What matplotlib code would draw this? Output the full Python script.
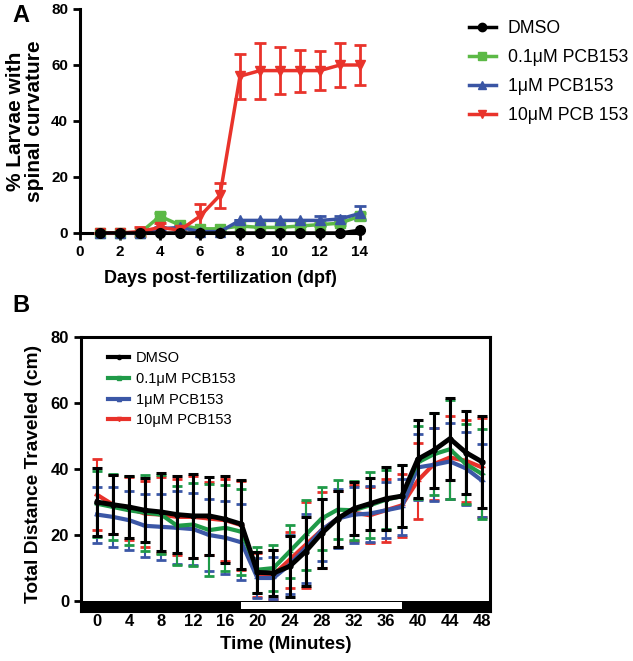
import matplotlib
matplotlib.use("Agg")
import matplotlib.pyplot as plt
from matplotlib.patches import Rectangle
from matplotlib.lines import Line2D

plt.rcParams['font.family'] = ['Liberation Sans', 'DejaVu Sans']

# ---- 面板 A：脊柱弯曲比例 ----
days = [1, 2, 3, 4, 5, 6, 7, 8, 9, 10, 11, 12, 13, 14]
dmso_a = [0, 0, 0, 0, 0, 0, 0, 0, 0, 0, 0, 0, 0, 1]
low_a = [0, 0, 0, 6, 2.8, 1.5, 1.5, 2.5, 2, 2, 2.5, 3, 3.5, 6]
mid_a = [0, 0, 0, 1.5, 2, 0.5, 0.5, 4.5, 4.5, 4.5, 4.5, 4.5, 5, 7]
high_a = [0, 0, 0.5, 2, 1, 6, 13.5, 56, 58, 58, 58, 58, 60, 60]
low_a_err = [0, 0, 0, 1, 0.5, 0, 0, 0, 0, 0, 0, 0.5, 0.5, 1]
mid_a_err = [0, 0, 0, 0.5, 0.5, 0, 0, 0, 0, 0, 0, 1.5, 1, 2.5]
high_a_err = [0, 0, 1.5, 1.5, 0, 4.5, 4.5, 8, 10, 8.5, 7.5, 7, 8, 7]
labels_a = ['DMSO', '0.1\u03bcM PCB153', '1\u03bcM PCB153', '10\u03bcM PCB 153']

# ---- 面板 B：总游动距离 ----
times = [0, 2, 4, 6, 8, 10, 12, 14, 16, 18, 20, 22, 24,
         26, 28, 30, 32, 34, 36, 38, 40, 42, 44, 46, 48]
dmso_b = [30, 29.2, 28.5, 27.5, 27, 26.2, 25.8, 25.8, 24.8, 23.3, 8.7, 8.5, 10.5,
          15, 20.5, 25, 28, 29.5, 31, 31.8, 43, 45.7, 49.2, 45, 42.2]
dmso_b_err = [10.3, 9, 9.4, 9.7, 11.7, 11.7, 12.8, 11.8, 13.2, 13.5, 6.3, 7, 9.3,
              10.5, 10.4, 8.5, 8, 7.9, 9.5, 9.3, 11.8, 11.4, 12.4, 12.5, 14]
low_b = [29.5, 28.5, 27.5, 26.8, 26.2, 22.8, 23.2, 21.5, 22.2, 21, 9.5, 10, 15,
         20, 25, 27.7, 27.5, 29, 30.7, 31.8, 42, 44.5, 46, 41.5, 38.5]
low_b_err = [10, 10, 10.5, 11.5, 12, 12, 12.5, 14, 13, 13, 7, 7, 8,
             10.5, 9.5, 9, 9, 10, 9, 9.5, 11, 12.5, 15, 12, 13.5]
mid_b = [26.2, 25.5, 24.5, 22.8, 22.5, 22.2, 21.8, 20, 19.2, 17.8, 7, 7, 11,
         16, 21.5, 25, 26.2, 26.5, 27.5, 28.5, 40.5, 41.3, 42.3, 40.2, 36.5]
mid_b_err = [8.5, 9, 9, 9.5, 10, 11, 11, 11, 11, 11.5, 6, 6.5, 9,
             10.5, 9.5, 9, 8.5, 8.5, 8.5, 8.5, 10, 11, 11.5, 11, 11]
high_b = [32.2, 29.2, 28, 26.5, 26.2, 25.5, 25.5, 25, 24.5, 23, 8, 8, 12.5,
          17, 21.5, 25, 26.8, 26, 27.5, 29, 36.5, 41.5, 43.5, 42.5, 40.5]
high_b_err = [10.7, 9, 9.5, 10, 11.5, 11.5, 12.5, 11, 12.5, 13.5, 6.7, 7.5, 8.5,
              13, 11.5, 8.5, 8.5, 8.5, 9.5, 9.5, 11.5, 11, 12.5, 12.5, 15]
labels_b = ['DMSO', '0.1\u03bcM PCB153', '1\u03bcM PCB153', '10\u03bcM PCB153']

W, H = 633, 661
fig = plt.figure(figsize=(W / 100, H / 100), dpi=100)

# ================= 面板 A =================
axA = fig.add_axes([80 / W, 1 - 233 / H, 280 / W, 224 / H])
ca = {'k': 'black', 'g': '#5cb946', 'b': '#3a55a4', 'r': '#e9332b'}
series_a = [
    (low_a, low_a_err, ca['g'], 's'),
    (mid_a, mid_a_err, ca['b'], '^'),
    (high_a, high_a_err, ca['r'], 'v'),
]
for vals, err, col, mk in series_a:
    axA.errorbar(days, vals, yerr=err, color=col, marker=mk, markersize=7,
                 lw=2.5, capsize=4, capthick=2, elinewidth=2, clip_on=False, zorder=3)
axA.plot(days, dmso_a, color='black', marker='o', markersize=7, lw=2.5,
         clip_on=False, zorder=4)

axA.set_xlim(0, 14)
axA.set_ylim(0, 80)
axA.set_xticks(range(0, 15, 2))
axA.set_yticks(range(0, 81, 20))
for s in ['top', 'right']:
    axA.spines[s].set_visible(False)
for s in ['left', 'bottom']:
    axA.spines[s].set_linewidth(2.2)
axA.tick_params(width=2, length=5, labelsize=11)
for t in axA.get_xticklabels() + axA.get_yticklabels():
    t.set_fontweight('bold')
axA.set_xlabel('Days post-fertilization (dpf)', fontsize=13, fontweight='bold', labelpad=8)
axA.set_ylabel('% Larvae with\nspinal curvature', fontsize=15, fontweight='bold',
               labelpad=5, linespacing=1.0)

handles_a = [Line2D([], [], color=ca['k'], marker='o', lw=2.5, markersize=6),
             Line2D([], [], color=ca['g'], marker='s', lw=2.5, markersize=6),
             Line2D([], [], color=ca['b'], marker='^', lw=2.5, markersize=6),
             Line2D([], [], color=ca['r'], marker='v', lw=2.5, markersize=6)]
fig.legend(handles_a, labels_a, loc='upper left', bbox_to_anchor=(462 / W, 1 - 13 / H),
           frameon=False, fontsize=12.7, handlelength=1.5, labelspacing=0.68,
           handletextpad=0.7, borderaxespad=0)

# ================= 面板 B =================
axB = fig.add_axes([81 / W, 1 - 611 / H, 409 / W, 274 / H])
cb = {'k': 'black', 'g': '#1f9a48', 'b': '#3b57a6', 'r': '#e8312a'}
series_b = [
    (high_b, high_b_err, cb['r']),
    (mid_b, mid_b_err, cb['b']),
    (low_b, low_b_err, cb['g']),
]
for vals, err, col in series_b:
    axB.errorbar(times, vals, yerr=err, color=col, lw=3, marker='_',
                 markersize=4, capsize=3.5, capthick=2, elinewidth=1.5, zorder=2)
axB.errorbar(times, dmso_b, yerr=dmso_b_err, color='black', lw=3.5,
             marker='o', markersize=3.5, capsize=3.5, capthick=2.2,
             elinewidth=2.2, zorder=3)

axB.set_xlim(-2, 49)
axB.set_ylim(-3, 80)
axB.set_xticks(range(0, 49, 4))
axB.set_yticks(range(0, 81, 20))
for s in axB.spines.values():
    s.set_linewidth(2.2)
axB.tick_params(axis='y', width=2, length=5, labelsize=12)
axB.tick_params(axis='x', length=0, labelsize=12, pad=2)
for t in axB.get_xticklabels() + axB.get_yticklabels():
    t.set_fontweight('bold')

# 明暗周期条
axB.add_patch(Rectangle((-2, -3), 51, 3, facecolor='black', edgecolor='none', zorder=5))
axB.add_patch(Rectangle((18, -2.5), 20, 2.1, facecolor='white', edgecolor='none', zorder=6))

axB.set_xlabel('Time (Minutes)', fontsize=13.5, fontweight='bold', labelpad=5)
axB.set_ylabel('Total Distance Traveled (cm)', fontsize=13.8, fontweight='bold', labelpad=6)

handles_b = [Line2D([], [], color=cb['k'], marker='o', lw=3, markersize=3),
             Line2D([], [], color=cb['g'], marker='s', lw=3, markersize=3),
             Line2D([], [], color=cb['b'], marker='^', lw=3, markersize=3),
             Line2D([], [], color=cb['r'], marker='v', lw=3, markersize=3)]
axB.legend(handles_b, labels_b, loc='upper left', frameon=False,
           fontsize=10.5, handlelength=1.4, labelspacing=0.45, handletextpad=0.5,
           bbox_to_anchor=(0.035, 0.995))

fig.text(12 / W, 1 - 15 / H, 'A', fontsize=17, fontweight='bold', va='center', ha='left')
fig.text(12 / W, 1 - 305 / H, 'B', fontsize=17, fontweight='bold', va='center', ha='left')

fig.savefig('out.png', dpi=100)
